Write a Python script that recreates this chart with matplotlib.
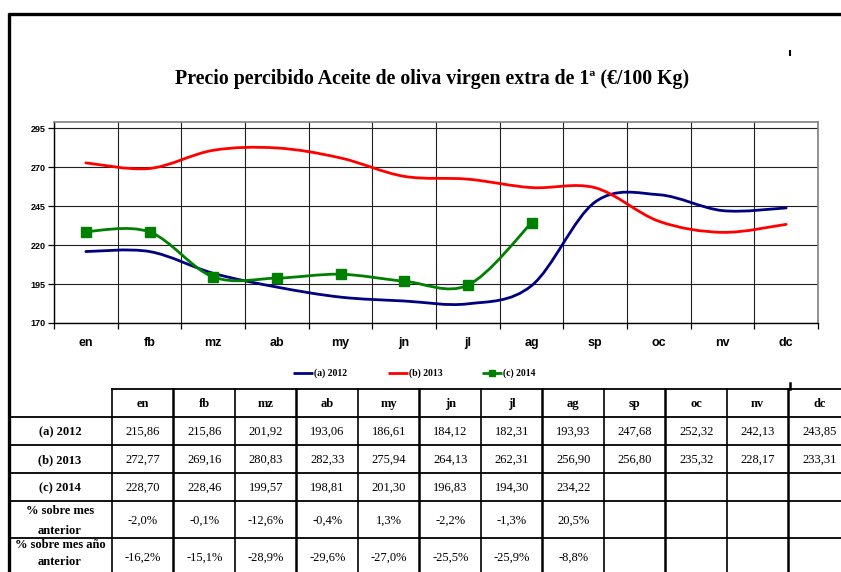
import matplotlib
matplotlib.use("Agg")
import matplotlib.pyplot as plt
from matplotlib.path import Path
from matplotlib.patches import PathPatch
import numpy as np

# ---------------- data ----------------
months = ["en", "fb", "mz", "ab", "my", "jn", "jl", "ag", "sp", "oc", "nv", "dc"]
series_names = ["(a) 2012", "(b) 2013", "(c) 2014"]
s2012 = [215.86, 215.86, 201.92, 193.06, 186.61, 184.12, 182.31, 193.93, 247.68, 252.32, 242.13, 243.85]
s2013 = [272.77, 269.16, 280.83, 282.33, 275.94, 264.13, 262.31, 256.90, 256.80, 235.32, 228.17, 233.31]
s2014 = [228.70, 228.46, 199.57, 198.81, 201.30, 196.83, 194.30, 234.22]
pct_prev_month = ["-2,0%", "-0,1%", "-12,6%", "-0,4%", "1,3%", "-2,2%", "-1,3%", "20,5%"]
pct_prev_year = ["-16,2%", "-15,1%", "-28,9%", "-29,6%", "-27,0%", "-25,5%", "-25,9%", "-8,8%"]
row_labels = ["(a) 2012", "(b) 2013", "(c) 2014", "% sobre mes\nanterior", "% sobre mes año\nanterior"]
y_ticks = [170, 195, 220, 245, 270, 295]
title = "Precio percibido Aceite de oliva virgen extra de 1ª (€/100 Kg)"

colors = ["#000080", "#FF0000", "#008000"]

W, H = 841, 572
fig = plt.figure(figsize=(W / 100, H / 100), dpi=100)
fig.patch.set_facecolor("white")

def px(x0, y0, x1, y1):
    return [x0 / W, 1 - y1 / H, (x1 - x0) / W, (y1 - y0) / H]

# ---------------- chart ----------------
ax = fig.add_axes(px(54, 122, 818, 323))
ax.set_xlim(0, 12)
ax.set_ylim(170, 299)

def smooth_path(xs, ys):
    pts = np.column_stack([xs, ys]).astype(float)
    n = len(pts)
    verts = [pts[0]]
    codes = [Path.MOVETO]
    for i in range(n - 1):
        p0 = pts[i - 1] if i > 0 else pts[i]
        p1 = pts[i]
        p2 = pts[i + 1]
        p3 = pts[i + 2] if i + 2 < n else pts[i + 1]
        c1 = p1 + (p2 - p0) / 6.0
        c2 = p2 - (p3 - p1) / 6.0
        verts += [c1, c2, p2]
        codes += [Path.CURVE4, Path.CURVE4, Path.CURVE4]
    return Path(verts, codes)

for vals, col, name in zip([s2012, s2013, s2014], colors, series_names):
    xs = np.arange(len(vals)) + 0.5
    patch = PathPatch(smooth_path(xs, vals), facecolor="none", edgecolor=col,
                      lw=2.0, transform=ax.transData, zorder=3, capstyle="round")
    ax.add_patch(patch)

xs14 = np.arange(len(s2014)) + 0.5
ax.plot(xs14, s2014, linestyle="none", marker="s", markersize=7.5,
        color=colors[2], zorder=4)

ax.set_yticks(y_ticks)
ax.set_yticklabels([str(v) for v in y_ticks], fontsize=6.5, fontweight="bold",
                   family="Liberation Sans")
ax.set_xticks(np.arange(0, 13))
ax.set_xticklabels([])
ax.set_xticks(np.arange(12) + 0.5, minor=True)
ax.set_xticklabels(months, minor=True, fontsize=9, fontweight="bold",
                   family="Liberation Sans")
ax.tick_params(axis="x", which="major", length=4, width=0.9, color="black")
ax.tick_params(axis="x", which="minor", length=0, pad=10)
ax.tick_params(axis="y", length=4, width=0.9, pad=2)
ax.grid(True, which="major", color="#202020", lw=0.8)
ax.set_axisbelow(True)
for s in ["top", "right"]:
    ax.spines[s].set_color("#808080")
    ax.spines[s].set_linewidth(1.2)
for s in ["left", "bottom"]:
    ax.spines[s].set_color("black")
    ax.spines[s].set_linewidth(1.0)

# ---------------- overlay (frame, title, legend, table) ----------------
ov = fig.add_axes([0, 0, 1, 1])
ov.set_xlim(0, W)
ov.set_ylim(H, 0)
ov.axis("off")

# outer frame
ov.plot([8, W + 5], [14, 14], color="black", lw=2.4, solid_capstyle="butt")
ov.plot([9.5, 9.5], [13, H + 5], color="black", lw=2.4, solid_capstyle="butt")
ov.plot([790, 790], [50, 56], color="black", lw=1.5, solid_capstyle="butt")

ov.text(432, 79, title, ha="center", va="center", fontsize=14.3,
        fontweight="bold", family="Liberation Serif")

# legend
leg_x = [293, 388, 482]
for lx, col, name, i in zip(leg_x, colors, series_names, range(3)):
    ov.plot([lx, lx + 20], [373, 373], color=col, lw=2.0, solid_capstyle="butt")
    if i == 2:
        ov.plot([lx + 10], [373], marker="s", markersize=5, color=col)
    ov.text(lx + 21, 373, name, ha="left", va="center", fontsize=7,
            fontweight="bold", family="Liberation Serif")

# table geometry
col_x = [112 + 61.5 * i for i in range(13)]
row_y = [389, 417, 445, 473, 501, 538, 576]
lw_t = 1.3
# horizontal lines
ov.plot([112, W + 5], [row_y[0], row_y[0]], color="black", lw=lw_t)
for y in row_y[1:6]:
    ov.plot([9, W + 5], [y, y], color="black", lw=lw_t)
# vertical lines
for i, x in enumerate(col_x):
    ov.plot([x, x], [row_y[0], H + 5], color="black", lw=1.8 if i % 2 else 1.2)
ov.plot([790, 790], [383, 389], color="black", lw=1.8)

tfont = dict(family="Liberation Serif", fontsize=9)
# header
for i, m in enumerate(months):
    ov.text((col_x[i] + col_x[i + 1]) / 2, (row_y[0] + row_y[1]) / 2 + 1, m,
            ha="center", va="center", fontweight="bold", **tfont)
# row labels
for r, lab in enumerate(row_labels):
    if r == 4:
        yc, ls = 553.5, 1.6
    else:
        yc, ls = (row_y[r + 1] + row_y[r + 2]) / 2 + 1.5, 1.95
    ov.text(60, yc, lab, ha="center", va="center", fontweight="bold",
            linespacing=ls, **tfont)

def fmt(v):
    return f"{v:.2f}".replace(".", ",")

table_rows = [[fmt(v) for v in s2012], [fmt(v) for v in s2013],
              [fmt(v) for v in s2014], pct_prev_month, pct_prev_year]
for r, vals in enumerate(table_rows):
    yc = (row_y[r + 1] + row_y[r + 2]) / 2 + 1
    for i, v in enumerate(vals):
        ov.text((col_x[i] + col_x[i + 1]) / 2, yc, v, ha="center", va="center",
                **tfont)

fig.savefig("out.png", dpi=100)
